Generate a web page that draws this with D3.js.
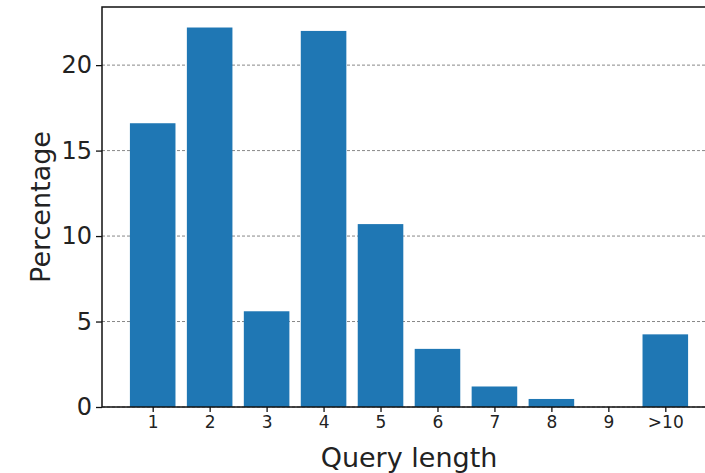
<!DOCTYPE html>
<html>
<head>
<meta charset="utf-8">
<script src="https://cdn.jsdelivr.net/npm/d3@7"></script>
<style>
  body { margin: 0; background: #fff; }
  svg { display: block; font-family: "DejaVu Sans", sans-serif; }
</style>
</head>
<body>
<div id="chart"></div>
<script>
// data
const categories = ["1", "2", "3", "4", "5", "6", "7", "8", "9", ">10"];
const percentages = [16.6, 22.2, 5.6, 22.0, 10.7, 3.4, 1.2, 0.47, 0, 4.25];
const yTicks = [0, 5, 10, 15, 20];

const width = 705,
  height = 473,
  margin = { top: 7, left: 102 };
// plot area runs a bit past the right edge of the picture (cropped figure)
const plotRight = 716,
  plotBottom = 407;

const svg = d3.select("#chart")
  .append("svg")
  .attr("width", width)
  .attr("height", height);

// x: positions 1..10, bars 0.8 wide, matplotlib style margins
const xScale = d3.scaleLinear()
  .domain([0.11, 10.89])
  .range([margin.left, plotRight]);

const yScale = d3.scaleLinear()
  .domain([0, 23.4])
  .range([plotBottom, margin.top]);

// grid lines
svg.append("g")
  .selectAll("line")
  .data(yTicks)
  .join("line")
  .attr("x1", margin.left)
  .attr("x2", plotRight)
  .attr("y1", d => yScale(d))
  .attr("y2", d => yScale(d))
  .attr("stroke", "#888")
  .attr("stroke-width", 1)
  .attr("stroke-dasharray", "3,2");

// bars
svg.append("g")
  .selectAll("rect")
  .data(percentages)
  .join("rect")
  .attr("x", (d, i) => xScale(i + 1 - 0.4))
  .attr("width", (d, i) => xScale(i + 1.4) - xScale(i + 0.6))
  .attr("y", d => yScale(d))
  .attr("height", d => plotBottom - yScale(d))
  .attr("fill", "#1f77b4");

// frame
svg.append("rect")
  .attr("x", margin.left)
  .attr("y", margin.top)
  .attr("width", plotRight - margin.left)
  .attr("height", plotBottom - margin.top)
  .attr("fill", "none")
  .attr("stroke", "#111")
  .attr("stroke-width", 1.5);

// y axis
const yAxis = d3.axisLeft(yScale)
  .tickValues(yTicks)
  .tickSize(6)
  .tickPadding(4);
const yg = svg.append("g")
  .attr("transform", `translate(${margin.left},0)`)
  .call(yAxis);
yg.select(".domain").remove();
yg.selectAll("line").attr("stroke", "#111").attr("stroke-width", 1.3);
yg.selectAll("text")
  .attr("font-size", 24)
  .attr("font-family", "DejaVu Sans")
  .attr("fill", "#222");

// x axis
const xAxis = d3.axisBottom(xScale)
  .tickValues(d3.range(1, categories.length + 1))
  .tickFormat((d, i) => categories[i])
  .tickSize(5)
  .tickPadding(4);
const xg = svg.append("g")
  .attr("transform", `translate(0,${plotBottom})`)
  .call(xAxis);
xg.select(".domain").remove();
xg.selectAll("line").attr("stroke", "#111").attr("stroke-width", 1.3);
xg.selectAll("text")
  .attr("font-size", 17)
  .attr("font-family", "DejaVu Sans")
  .attr("fill", "#222");

// axis labels
svg.append("text")
  .attr("x", (margin.left + plotRight) / 2)
  .attr("y", 467)
  .attr("text-anchor", "middle")
  .attr("font-size", 27)
  .attr("fill", "#222")
  .text("Query length");

svg.append("text")
  .attr("transform", `translate(50,${(margin.top + plotBottom) / 2}) rotate(-90)`)
  .attr("text-anchor", "middle")
  .attr("font-size", 27)
  .attr("fill", "#222")
  .text("Percentage");
</script>
</body>
</html>
